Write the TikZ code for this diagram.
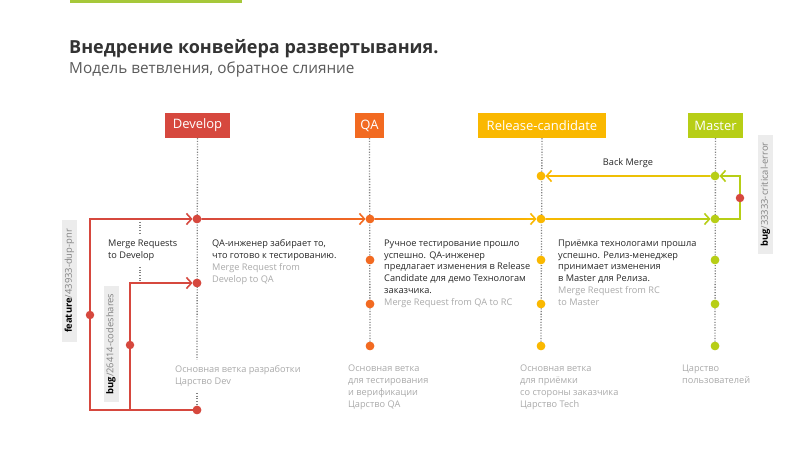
\documentclass[tikz,border=0pt]{standalone}
\usepackage{fontspec}
\setmainfont{Open Sans}
\usetikzlibrary{arrows.meta,calc}
\definecolor{cDev}{RGB}{214,72,62}
\definecolor{cQA}{RGB}{242,106,33}
\definecolor{cRC}{RGB}{250,184,0}
\definecolor{cMa}{RGB}{183,206,22}
\definecolor{cBar}{RGB}{166,200,58}
\definecolor{tgray}{RGB}{170,170,170}
\definecolor{tdark}{RGB}{40,40,40}
\definecolor{dotg}{RGB}{130,130,130}
\definecolor{lblbg}{RGB}{236,236,236}
\tikzset{
  hdr/.style={fill=#1, text=white, minimum height=25pt, inner sep=0pt, font=\fontsize{13}{15}\selectfont},
  cdot/.style={circle, fill=#1, inner sep=0pt, minimum size=8.5pt},
  vline/.style={dotg, line width=1.3pt, dash pattern=on 1.1pt off 1.6pt},
  conn/.style={#1, line width=1.6pt},
  arr/.style={#1, line width=1.6pt, -{Straight Barb[length=5pt,width=11pt,line width=1.6pt]}},
  txt/.style={anchor=north west, inner sep=0pt, align=left, text=tdark, font=\fontsize{9.2}{11.8}\selectfont},
  gtxt/.style={txt, text=tgray},
  blbl/.style={rotate=90, fill=lblbg, inner xsep=4pt, inner ysep=2pt, font=\fontsize{9.4}{11}\selectfont, minimum height=15pt}
}
\begin{document}
\begin{tikzpicture}[x=1pt,y=-1pt]
\useasboundingbox[fill=white] (0,0) rectangle (807,454);
% top bar
\fill[cBar] (70,0) rectangle (242,3);
% title
\node[anchor=base west, inner sep=0pt, text={rgb,255:red,51;green,51;blue,51}, font=\fontsize{18}{21}\selectfont\bfseries] (title) at (69,54) {Внедрение конвейера развертывания.};
\node[anchor=base west, inner sep=0pt, text={rgb,255:red,90;green,90;blue,90}, font=\fontsize{15.3}{18}\selectfont] (subtitle) at (69,74) {Модель ветвления, обратное слияние};
% headers
\node[hdr=cDev, minimum width=65pt] (hD) at (197.5,125.5) {Develop};
\node[hdr=cQA, minimum width=29pt] (hQ) at (369.5,125.5) {QA};
\node[hdr=cRC, minimum width=128pt] (hR) at (542,125.5) {Release-candidate};
\node[hdr=cMa, minimum width=55pt] (hM) at (715.5,125.5) {Master};
% dots
\node[cdot=cDev] (d1) at (197,219) {};
\node[cdot=cDev] (d2) at (197,283) {};
\node[cdot=cDev] (d3) at (197,410) {};
\node[cdot=cQA] (q1) at (370,219) {};
\node[cdot=cQA] (q2) at (370,260) {};
\node[cdot=cQA] (q3) at (370,304) {};
\node[cdot=cQA] (q4) at (370,346) {};
\node[cdot=cRC] (r0) at (541,176) {};
\node[cdot=cRC] (r1) at (541,219) {};
\node[cdot=cRC] (r2) at (541,260) {};
\node[cdot=cRC] (r3) at (541,304) {};
\node[cdot=cRC] (r4) at (541,346) {};
\node[cdot=cMa] (m0) at (715,176) {};
\node[cdot=cMa] (m1) at (715,219) {};
\node[cdot=cMa] (m2) at (715,260) {};
\node[cdot=cMa] (m3) at (715,304) {};
\node[cdot=cMa] (m4) at (715,346) {};
% vertical dotted lines
\coordinate (dGapTop) at (197,360);
\coordinate (dGapBot) at (197,393);
\draw[vline] (hD.south) -- (dGapTop);
\draw[vline] (dGapBot) -- (d3.north);
\draw[vline] (hQ.south) -- (q4.north);
\draw[vline] (hR.south) -- (r4.north);
\draw[vline] (hM.south) -- (m4.north);
% small dotted marks near Merge Requests
\coordinate (mr1) at (140,222); \coordinate (mr2) at (140,235);
\coordinate (mr3) at (140,267); \coordinate (mr4) at (140,281);
\draw[vline] (mr1) -- (mr2);
\draw[vline] (mr3) -- (mr4);
% redraw dots over lines
\foreach \n/\c in {d1/cDev,d2/cDev,d3/cDev,q1/cQA,q2/cQA,q3/cQA,q4/cQA,r0/cRC,r1/cRC,r2/cRC,r3/cRC,r4/cRC,m0/cMa,m1/cMa,m2/cMa,m3/cMa,m4/cMa}
  \fill[\c] (\n) circle (4.25pt);
% main line, gradient segments
\shade[left color=cDev, right color=cQA] ($(d1.east)+(0,-0.8)$) rectangle ($(q1.west)+(-2,0.8)$);
\draw[arr=cQA] ($(q1.west)+(-10,0)$) -- (q1.west);
\shade[left color=cQA, right color=cRC] ($(q1.east)+(0,-0.8)$) rectangle ($(r1.west)+(-2,0.8)$);
\draw[arr=cRC] ($(r1.west)+(-10,0)$) -- (r1.west);
\shade[left color=cRC, right color=cMa] ($(r1.east)+(0,-0.8)$) rectangle ($(m1.west)+(-2,0.8)$);
\draw[arr=cMa] ($(m1.west)+(-10,0)$) -- (m1.west);
% hotfix loop on master
\coordinate (hf1) at (740,219);
\coordinate (hf2) at (740,176);
\draw[conn=cMa] (m1.east) -- (hf1) -- (hf2) -- ($(m0.east)+(2,0)$);
\draw[arr=cMa] ($(m0.east)+(10,0)$) -- (m0.east);
\node[cdot=cDev] (hfd) at (740,198) {};
% back merge
\shade[left color=cRC, right color={rgb,255:red,225;green,200;blue,10}] ($(r0.east)+(2,-0.8)$) rectangle ($(m0.west)+(0,0.8)$);
\draw[arr=cRC] ($(r0.east)+(10,0)$) -- (r0.east);
\node[inner sep=0pt, text=tdark, font=\fontsize{9.2}{11}\selectfont] (bm) at (628,163) {Back Merge};
% feature branch
\coordinate (fb) at (90,410);
\coordinate (ft) at (90,219);
\draw[conn=cDev] (d3.west) -- (fb) -- (ft) -- ($(d1.west)+(-2,0)$);
\draw[arr=cDev] ($(d1.west)+(-10,0)$) -- (d1.west);
\node[cdot=cDev] (fd) at (90,315) {};
% bug branch
\coordinate (bb) at (130,410);
\coordinate (bt) at (130,283);
\draw[conn=cDev] (bb) -- (bt) -- ($(d2.west)+(-2,0)$);
\draw[arr=cDev] ($(d2.west)+(-10,0)$) -- (d2.west);
\node[cdot=cDev] (bd) at (130,345) {};
% rotated labels
\node[blbl, minimum width=122pt] (lf) at (69.5,281) {\textbf{feature}\textcolor{dotg}{/43933-dup-pnr}};
\node[blbl, minimum width=116pt] (lb) at (111,344) {\textbf{bug}\textcolor{dotg}{/26414-codeshares}};
\node[blbl, minimum width=119pt] (lc) at (765.5,194.5) {\textbf{bug}\textcolor{dotg}{/33333-critical-error}};
% texts
\node[txt] (mr) at (108,239.5) {Merge Requests\\to Develop};
\node[txt] (t1) at (212,239.5) {QA-инженер забирает то,\\что готово к тестированию.\\\textcolor{tgray}{Merge Request from}\\\textcolor{tgray}{Develop to QA}};
\node[txt] (t2) at (384,239.5) {Ручное тестирование прошло\\успешно. QA-инженер\\предлагает изменения в Release\\Candidate для демо Технологам\\заказчика.\\\textcolor{tgray}{Merge Request from QA to RC}};
\node[txt] (t3) at (558,239.5) {Приёмка технологами прошла\\успешно. Релиз-менеджер\\принимает изменения\\в Master для Релиза.\\\textcolor{tgray}{Merge Request from RC}\\\textcolor{tgray}{to Master}};
% bottom labels
\node[gtxt] (b1) at (175,365) {Основная ветка разработки\\Царство Dev};
\node[gtxt] (b2) at (348,365) {Основная ветка\\для тестирования\\и верификации\\Царство QA};
\node[gtxt] (b3) at (520,365) {Основная ветка\\для приёмки\\со стороны заказчика\\Царство Tech};
\node[gtxt] (b4) at (682,365) {Царство\\пользователей};
\end{tikzpicture}
\end{document}
